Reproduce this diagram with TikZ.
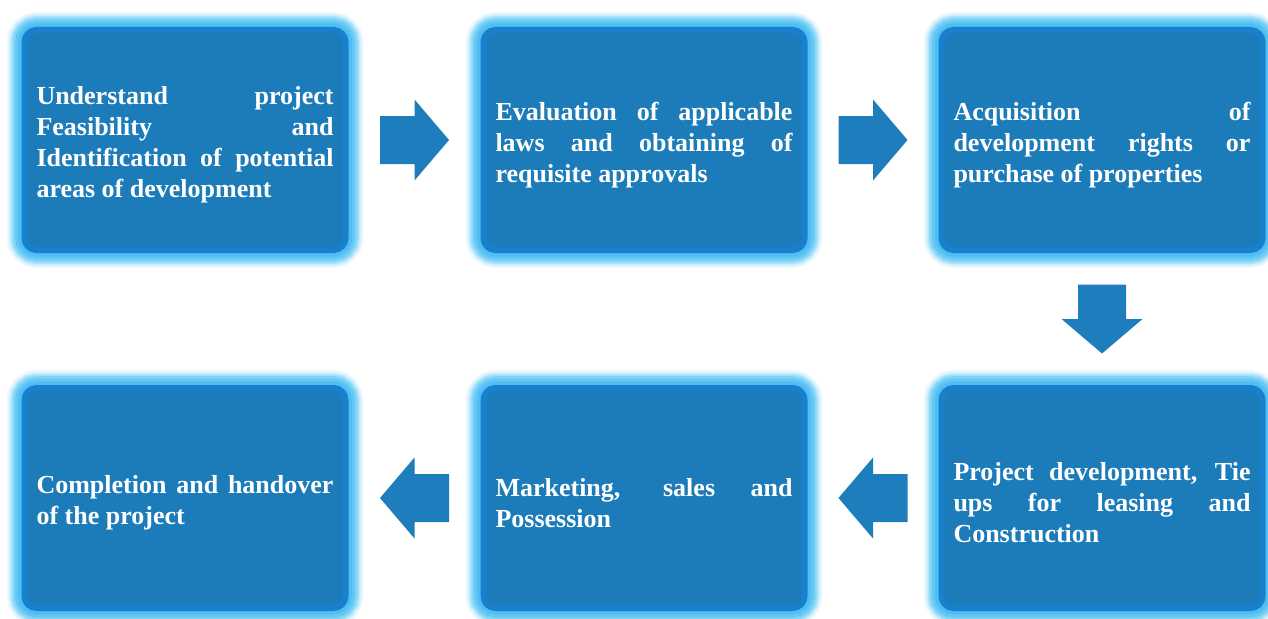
\documentclass[tikz,border=0pt]{standalone}
\usepackage{fontspec}
\setmainfont{Liberation Serif}
\usetikzlibrary{calc}
\definecolor{boxfill}{RGB}{28,124,186}
\definecolor{boxrim}{RGB}{24,128,205}
\definecolor{glowA}{RGB}{80,190,243}
\definecolor{glowB}{RGB}{100,200,245}
\definecolor{glowC}{RGB}{130,212,248}
\definecolor{glowD}{RGB}{170,226,250}
\definecolor{glowE}{RGB}{210,240,253}
\definecolor{glowF}{RGB}{238,249,254}
\definecolor{arrowblue}{RGB}{30,125,188}
\hyphenpenalty=10000
\hbadness=10000
\begin{document}
\begin{tikzpicture}[x=1pt,y=-1pt,
  block/.style={rectangle, rounded corners=12pt, minimum width=321pt, minimum height=220pt,
    fill=boxfill, draw=boxrim, line width=6pt, text=white, text width=297pt, align=justify,
    font=\bfseries\fontsize{26}{31}\selectfont, execute at end node={\endgraf\vspace*{-10pt}},
    preaction={draw=glowF, line width=36pt},
    preaction={draw=glowE, line width=32pt},
    preaction={draw=glowD, line width=28pt},
    preaction={draw=glowC, line width=24pt},
    preaction={draw=glowB, line width=19pt},
    preaction={draw=glowA, line width=13pt}},
  blockarrow/.pic={\fill[arrowblue] (-34.5,-24) -- (0,-24) -- (0,-40.5) -- (34.5,0) -- (0,40.5) -- (0,24) -- (-34.5,24) -- cycle;}]
\useasboundingbox (0,0) rectangle (1268,618);
\draw (185,140) node[block] (A) {Understand project\linebreak Feasibility and\linebreak Identification of potential\linebreak areas of development};
\draw (644,140) node[block] (B) {Evaluation of applicable\linebreak laws and obtaining of\linebreak requisite approvals};
\draw (1102,140) node[block] (C) {Acquisition of\linebreak development rights or\linebreak purchase of properties};
\draw (1102,498) node[block] (D) {Project development, Tie\linebreak ups for leasing and\linebreak Construction};
\draw (644,498) node[block] (E) {Marketing, sales and\linebreak Possession};
\draw (185,498) node[block] (F) {Completion and handover\linebreak of the project};
% arrows between the steps
\pic at ($(A.east)!0.5!(B.west)$) {blockarrow};
\pic at ($(B.east)!0.5!(C.west)$) {blockarrow};
\pic[rotate=-90] at ($(C.south)!0.5!(D.north)$) {blockarrow};
\pic[rotate=180] at ($(D.west)!0.5!(E.east)$) {blockarrow};
\pic[rotate=180] at ($(E.west)!0.5!(F.east)$) {blockarrow};
\end{tikzpicture}
\end{document}
